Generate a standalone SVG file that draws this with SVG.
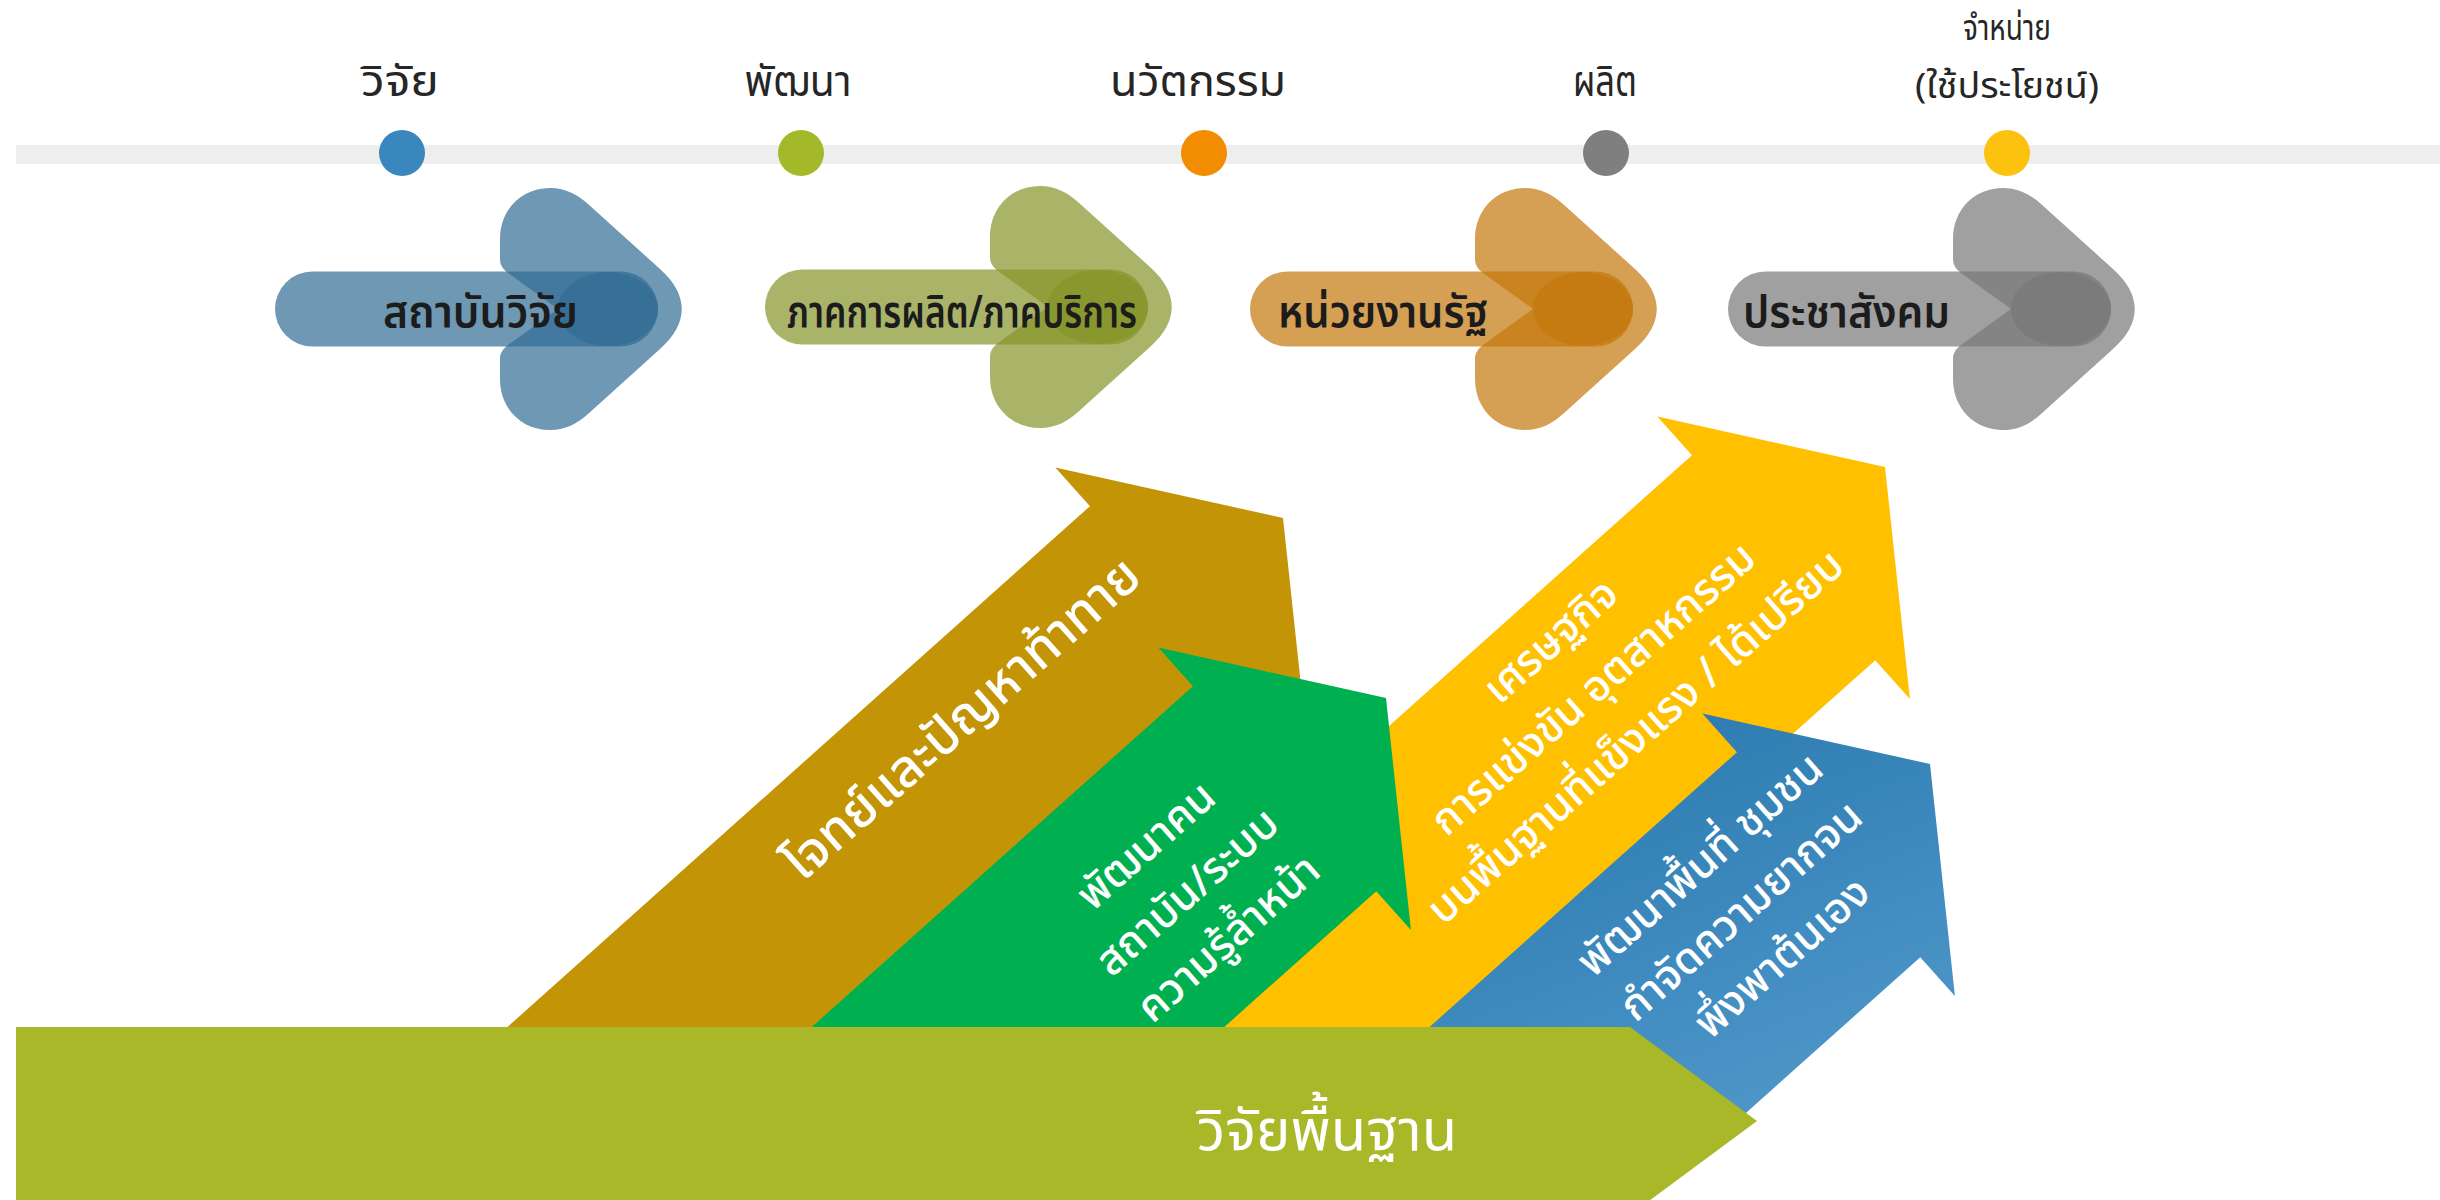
<svg xmlns="http://www.w3.org/2000/svg" xmlns:xlink="http://www.w3.org/1999/xlink" width="2440" height="1200" viewBox="0 0 2440 1200">
  <style>
    .th { font-family: "Noto Sans Thai", "Noto Sans", "DejaVu Sans", sans-serif; }
    .lbl { font-size: 42px; fill: #262626; text-anchor: middle; }
    .lbl-s { font-size: 35px; fill: #262626; text-anchor: middle; }
    .pilltxt { font-size: 45px; fill: #1c1c1c; font-weight: 600; }
    .diag { font-size: 43px; fill: #ffffff; text-anchor: middle; font-weight: 500; }
    .big { font-size: 52px; fill: #ffffff; text-anchor: middle; font-weight: 500; }
    .base { font-size: 58px; fill: #ffffff; text-anchor: middle; }
    .lay { opacity: 0.7; }
  </style>
  <defs>
    <path id="chev" d="M0,-70 C0,-100 22,-121 50,-121 C66,-121 78,-114 88,-105 L160,-40 C189,-14 189,14 160,40 L88,105 C78,114 66,121 50,121 C22,121 0,100 0,70 L0,50 C0,44 3,40 8,36 L58,0 L8,-36 C3,-40 0,-44 0,-50 Z"/>
    <rect id="pill" x="-225" y="-37.5" width="383" height="75" rx="37.5"/>
    <ellipse id="dark" cx="108" cy="0" rx="50" ry="37"/>
    <path id="bigArrow" d="M0,0 L-136,-189.5 L-136,-137.5 L-1000,-137.5 L-1000,137.5 L-136,137.5 L-136,189.5 Z"/>
    <linearGradient id="blueGrad" x1="0" y1="1" x2="1" y2="0">
      <stop offset="0" stop-color="#6aa6d2"/>
      <stop offset="0.55" stop-color="#438ec2"/>
      <stop offset="1" stop-color="#2a79ae"/>
    </linearGradient>
    <clipPath id="blueClip">
      <polygon points="0,0 2440,0 2440,1121 1757,1121 1630,1215 0,1215"/>
    </clipPath>
  </defs>

  <rect width="2440" height="1200" fill="#ffffff"/>

  <!-- timeline -->
  <g id="timeline">
    <rect x="16" y="145" width="2424" height="19" fill="#eeeeee"/>
  </g>

  <g id="stage-research">
    <circle cx="402" cy="153" r="23" fill="#3a87be"/>
    <text class="th lbl" x="400" y="96" textLength="78" lengthAdjust="spacingAndGlyphs">วิจัย</text>
  </g>
  <g id="stage-develop">
    <circle cx="801" cy="153" r="23" fill="#a3b92a"/>
    <text class="th lbl" x="798" y="96" textLength="107" lengthAdjust="spacingAndGlyphs">พัฒนา</text>
  </g>
  <g id="stage-innovation">
    <circle cx="1204" cy="153" r="23" fill="#f28c00"/>
    <text class="th lbl" x="1198" y="96" textLength="176" lengthAdjust="spacingAndGlyphs">นวัตกรรม</text>
  </g>
  <g id="stage-produce">
    <circle cx="1606" cy="153" r="23" fill="#7f7f7f"/>
    <text class="th lbl" x="1605" y="96" textLength="64" lengthAdjust="spacingAndGlyphs">ผลิต</text>
  </g>
  <g id="stage-distribute">
    <circle cx="2007" cy="153" r="23" fill="#fdc10f"/>
    <text class="th lbl-s" x="2007" y="40" textLength="88" lengthAdjust="spacingAndGlyphs">จำหน่าย</text>
    <text class="th lbl-s" x="2007" y="98" textLength="184" lengthAdjust="spacingAndGlyphs">(ใช้ประโยชน์)</text>
  </g>

  <!-- actor pills -->
  <g id="actor-institute" transform="translate(500,309)" fill="#316c94">
    <use xlink:href="#pill" class="lay"/>
    <use xlink:href="#chev" class="lay"/>
    <use xlink:href="#dark" class="lay"/>
    <text class="th pilltxt" x="-117" y="18" textLength="195" lengthAdjust="spacingAndGlyphs">สถาบันวิจัย</text>
  </g>
  <g id="actor-sector" transform="translate(990,307)" fill="#869429">
    <use xlink:href="#pill" class="lay"/>
    <use xlink:href="#chev" class="lay"/>
    <use xlink:href="#dark" class="lay"/>
    <text class="th pilltxt" x="-203" y="20" textLength="350" lengthAdjust="spacingAndGlyphs">ภาคการผลิต/ภาคบริการ</text>
  </g>
  <g id="actor-government" transform="translate(1475,309)" fill="#c3770c">
    <use xlink:href="#pill" class="lay"/>
    <use xlink:href="#chev" class="lay"/>
    <use xlink:href="#dark" class="lay"/>
    <text class="th pilltxt" x="-197" y="18" textLength="210" lengthAdjust="spacingAndGlyphs">หน่วยงานรัฐ</text>
  </g>
  <g id="actor-civil" transform="translate(1953,309)" fill="#777777">
    <use xlink:href="#pill" class="lay"/>
    <use xlink:href="#chev" class="lay"/>
    <use xlink:href="#dark" class="lay"/>
    <text class="th pilltxt" x="-210" y="18" textLength="207" lengthAdjust="spacingAndGlyphs">ประชาสังคม</text>
  </g>

  <!-- big diagonal arrows -->
  <g id="arrow-challenge">
    <use xlink:href="#bigArrow" transform="translate(1283,518) rotate(-41.8)" fill="#c39506"/>
    <text class="th big" transform="translate(962,719) rotate(-41.5)" x="0" y="17">โจทย์และปัญหาท้าทาย</text>
  </g>
  <g id="arrow-economy">
    <use xlink:href="#bigArrow" transform="translate(1885,467) rotate(-41.8)" fill="#ffc000"/>
    <g transform="translate(1594,690) rotate(-41.5)">
      <text class="th diag" x="0" y="-51">เศรษฐกิจ</text>
      <text class="th diag" x="0" y="13">การแข่งขัน อุตสาหกรรม</text>
      <text class="th diag" x="0" y="77">บนพื้นฐานที่แข็งแรง / ได้เปรียบ</text>
    </g>
  </g>
  <g id="arrow-people">
    <use xlink:href="#bigArrow" transform="translate(1386,698) rotate(-41.8)" fill="#00b050"/>
    <g transform="translate(1188,893) rotate(-41.5)">
      <text class="th diag" x="0" y="-49">พัฒนาคน</text>
      <text class="th diag" x="0" y="13">สถาบัน/ระบบ</text>
      <text class="th diag" x="0" y="75">ความรู้ล้ำหน้า</text>
    </g>
  </g>
  <g id="arrow-area">
    <g clip-path="url(#blueClip)">
      <use xlink:href="#bigArrow" transform="translate(1930,764) rotate(-41.8)" fill="url(#blueGrad)"/>
    </g>
    <g transform="translate(1742,912) rotate(-41.5)">
      <text class="th diag" x="0" y="-49">พัฒนาพื้นที่ ชุมชน</text>
      <text class="th diag" x="0" y="13">กำจัดความยากจน</text>
      <text class="th diag" x="0" y="75">พึ่งพาต้นเอง</text>
    </g>
  </g>

  <!-- base research band -->
  <g id="basic-research">
    <polygon points="16,1027 1630,1027 1757,1121 1630,1215 16,1215" fill="#a8b828"/>
    <text class="th base" x="1327" y="1150">วิจัยพื้นฐาน</text>
  </g>
</svg>
